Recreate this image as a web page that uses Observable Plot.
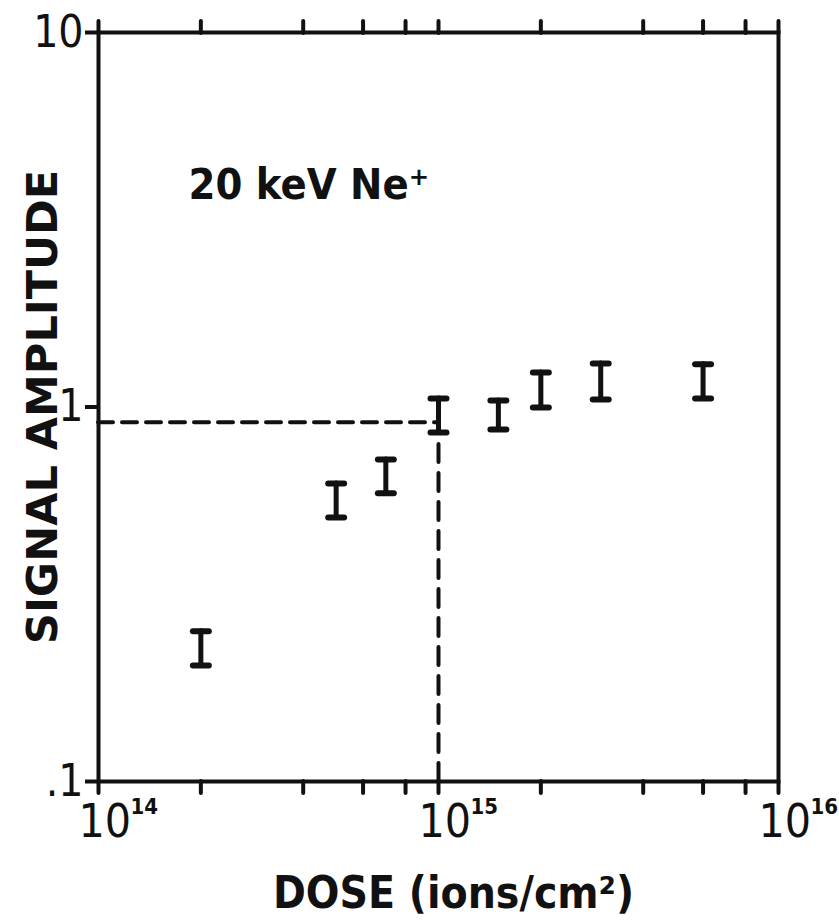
<!DOCTYPE html>
<html>
<head>
<meta charset="utf-8">
<script src="https://cdn.jsdelivr.net/npm/d3@7"></script>
<script src="https://cdn.jsdelivr.net/npm/@observablehq/plot@0.6"></script>
<style>
  html, body { margin: 0; padding: 0; background: #fff; }
  #chart svg { display: block; }
  #chart svg text { font-stretch: condensed; }
  #chart svg g.ytitle text { font-stretch: normal; }
</style>
</head>
<body>
<div id="chart"></div>
<script>
// ---- data ----
const dose    = [2e14, 5e14, 7e14, 1e15, 1.5e15, 2e15, 3e15, 6e15];
const ampLow  = [0.204, 0.507, 0.588, 0.855, 0.871, 0.997, 1.047, 1.054];
const ampHigh = [0.252, 0.625, 0.724, 1.054, 1.041, 1.237, 1.307, 1.300];

const xTicks = [1e14, 2e14, 4e14, 6e14, 8e14, 1e15, 2e15, 4e15, 6e15, 8e15, 1e16];
const xLabelDoses = [1e14, 1e15, 1e16];
const xLabelExps  = ["14", "15", "16"];
const yTicks = [0.1, 1, 10];
const yTickLabels = [".1", "1", "10"];

const refDose = 1e15;
const refAmp = 0.91;
const annotation = ["20 keV Ne⁺"];
const annotationDose = 1.84e14;
const annotationAmp = 3.9;

const xTitle = "DOSE (ions/cm²)";
const yTitle = "SIGNAL AMPLITUDE";

// ---- build ----
const points = dose.map((d, i) => ({dose: d, lo: ampLow[i], hi: ampHigh[i]}));
const labels = xLabelDoses.map((d, i) => ({dose: d, exp: xLabelExps[i]}));
const FONT = "DejaVu Sans, Liberation Sans, sans-serif";

const hline = {
  draw(context, size) {
    const w = Math.sqrt(size);
    context.moveTo(-w / 2, 0);
    context.lineTo(w / 2, 0);
  }
};

const chart = Plot.plot({
  width: 839,
  height: 922,
  marginLeft: 98,
  marginRight: 61,
  marginTop: 32,
  marginBottom: 141,
  style: {fontFamily: FONT, background: "#fff", color: "#111"},
  x: {type: "log", domain: [1e14, 1e16]},
  y: {type: "log", domain: [0.1, 10]},
  marks: [
    // dashed reference lines
    Plot.ruleY([refAmp], {x1: 1e14, x2: refDose, stroke: "#111", strokeWidth: 4,
      strokeDasharray: "15,9", strokeLinecap: "round"}),
    Plot.ruleX([refDose], {y1: 0.1, y2: refAmp, stroke: "#111", strokeWidth: 4,
      strokeDasharray: "18,11", strokeLinecap: "round"}),
    // error bars
    Plot.ruleX(points, {x: "dose", y1: "lo", y2: "hi", stroke: "#111", strokeWidth: 5, strokeLinecap: "round"}),
    Plot.dot(points, {x: "dose", y: "lo", symbol: hline, r: 9, stroke: "#111", strokeWidth: 6, strokeLinecap: "round"}),
    Plot.dot(points, {x: "dose", y: "hi", symbol: hline, r: 9, stroke: "#111", strokeWidth: 6, strokeLinecap: "round"}),
    // axes ticks
    Plot.axisX({anchor: "bottom", ticks: xTicks, tickSize: 12, tickFormat: () => "", label: null,
      strokeWidth: 4, strokeLinecap: "round", stroke: "#111"}),
    Plot.axisX({anchor: "top", ticks: xTicks, tickSize: 12, tickFormat: () => "", label: null,
      strokeWidth: 4, strokeLinecap: "round", stroke: "#111"}),
    Plot.axisY({anchor: "left", ticks: yTicks, tickSize: 13, tickPadding: 2, strokeWidth: 4, stroke: "#111",
      tickFormat: (d) => yTickLabels[yTicks.indexOf(d)], fontSize: 44, fill: "#111", label: null}),
    // x tick labels: 10 with superscript exponent
    Plot.text(labels, {x: "dose", y: 0.1, text: () => "10", textAnchor: "start", dx: -20, dy: 41,
      fontSize: 46, fill: "#111", fontFamily: FONT}),
    Plot.text(labels, {x: "dose", y: 0.1, text: "exp", textAnchor: "start", dx: 32, dy: 25,
      fontSize: 22, fontWeight: "bold", fill: "#111", fontFamily: FONT}),
    // annotation
    Plot.text(annotation, {x: annotationDose, y: annotationAmp, text: (d) => d, textAnchor: "start",
      fontSize: 43, fontWeight: "bold", fill: "#111", fontFamily: FONT}),
    // titles
    Plot.text([yTitle], {frameAnchor: "left", textAnchor: "middle", lineAnchor: "middle", text: (d) => d,
      rotate: -90, dx: -55, fontSize: 43, fontWeight: "bold", fill: "#111", fontFamily: FONT, className: "ytitle"}),
    Plot.text([xTitle], {frameAnchor: "bottom", textAnchor: "middle", lineAnchor: "middle", text: (d) => d,
      dx: 15, dy: 112, fontSize: 44, fontWeight: "bold", fill: "#111", fontFamily: FONT}),
    Plot.frame({stroke: "#111", strokeWidth: 4})
  ]
});
document.getElementById("chart").appendChild(chart);
</script>
</body>
</html>
